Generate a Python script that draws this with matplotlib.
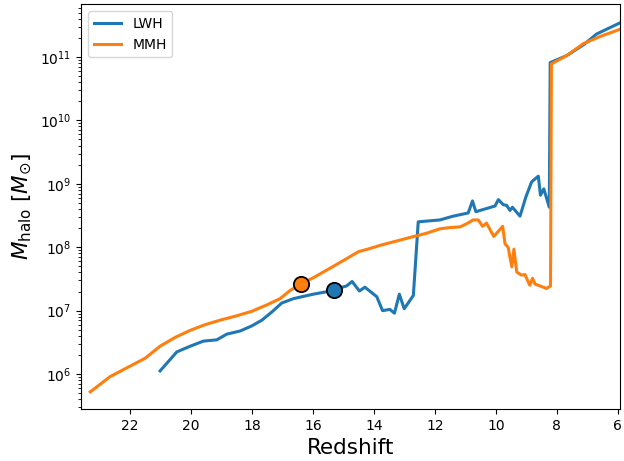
import numpy as np
import matplotlib
matplotlib.use("Agg")
import matplotlib.pyplot as plt
from matplotlib.ticker import NullFormatter

# LWH (blue) series: redshift, log10 halo mass
z_lwh = [21.02, 20.47, 20.03, 19.60, 19.16, 18.83, 18.39, 18.01, 17.68, 17.35,
         17.03, 16.64, 15.99, 15.31, 15.11, 14.90, 14.72, 14.48, 14.30, 13.91,
         13.72, 13.48, 13.33, 13.17, 13.01, 12.71, 12.55, 11.84, 11.40, 10.91,
         10.77, 10.66, 10.31, 10.03, 9.92, 9.76, 9.65, 9.54, 9.46, 9.21,
         9.02, 8.83, 8.61, 8.54, 8.43, 8.25, 8.22, 7.68, 7.13, 6.70, 5.96]
logm_lwh = [6.05, 6.35, 6.44, 6.52, 6.54, 6.63, 6.68, 6.76, 6.85, 6.98,
            7.12, 7.19, 7.26, 7.32, 7.36, 7.39, 7.46, 7.31, 7.37, 7.22,
            7.00, 7.02, 6.96, 7.26, 7.03, 7.24, 8.40, 8.43, 8.49, 8.54,
            8.73, 8.56, 8.61, 8.65, 8.75, 8.67, 8.66, 8.58, 8.63, 8.49,
            8.79, 9.03, 9.12, 8.82, 8.92, 8.63, 10.91, 11.02, 11.19, 11.36, 11.53]

# MMH (orange) series
z_mmh = [23.31, 22.66, 21.51, 21.02, 20.52, 20.03, 19.54, 19.05, 18.50, 18.01,
         17.52, 17.08, 16.75, 16.40, 15.99, 15.33, 14.90, 14.51, 14.13, 13.80,
         13.48, 12.93, 12.28, 11.84, 11.51, 11.18, 10.96, 10.75, 10.58, 10.44,
         10.31, 10.07, 9.78, 9.70, 9.60, 9.48, 9.41, 9.32, 9.16, 9.05,
         8.89, 8.80, 8.72, 8.34, 8.21, 8.18, 7.68, 7.13, 6.59, 5.96]
logm_mmh = [5.72, 5.96, 6.25, 6.44, 6.58, 6.69, 6.78, 6.85, 6.92, 6.99,
            7.09, 7.19, 7.32, 7.42, 7.52, 7.70, 7.82, 7.93, 7.98, 8.03,
            8.07, 8.14, 8.22, 8.29, 8.31, 8.32, 8.37, 8.43, 8.43, 8.33,
            8.38, 8.17, 8.33, 8.05, 8.00, 7.69, 7.97, 7.61, 7.56, 7.57,
            7.40, 7.51, 7.42, 7.35, 7.39, 10.89, 11.02, 11.21, 11.32, 11.43]

# highlighted points
z_mark = [15.31, 16.40]
logm_mark = [7.32, 7.42]
labels = ["LWH", "MMH"]

blue = "#1f77b4"
orange = "#ff7f0e"

fig = plt.figure(figsize=(6.24, 4.61), dpi=100)
ax = fig.add_axes([0.13, 0.1128, 0.8636, 0.878])

ax.plot(z_lwh, 10 ** np.array(logm_lwh), color=blue, lw=2.2, label=labels[0])
ax.plot(z_mmh, 10 ** np.array(logm_mmh), color=orange, lw=2.2, label=labels[1])
ax.plot(z_mark[0], 10 ** logm_mark[0], 'o', color=blue, mec='black', mew=1.3, ms=11, zorder=5)
ax.plot(z_mark[1], 10 ** logm_mark[1], 'o', color=orange, mec='black', mew=1.3, ms=11, zorder=5)

ax.set_yscale('log')
ax.set_xlim(23.61, 5.93)
ax.set_ylim(10 ** 5.45, 10 ** 11.83)
ax.set_xticks([22, 20, 18, 16, 14, 12, 10, 8, 6])
ax.yaxis.set_minor_formatter(NullFormatter())
ax.tick_params(labelsize=10)
ax.set_xlabel("Redshift", fontsize=15.5)
ax.set_ylabel(r"$M_{\rm halo}$ [$M_{\odot}$]", fontsize=15.5)
ax.legend(loc='upper left', fontsize=10)

fig.savefig("out.png", dpi=100)
